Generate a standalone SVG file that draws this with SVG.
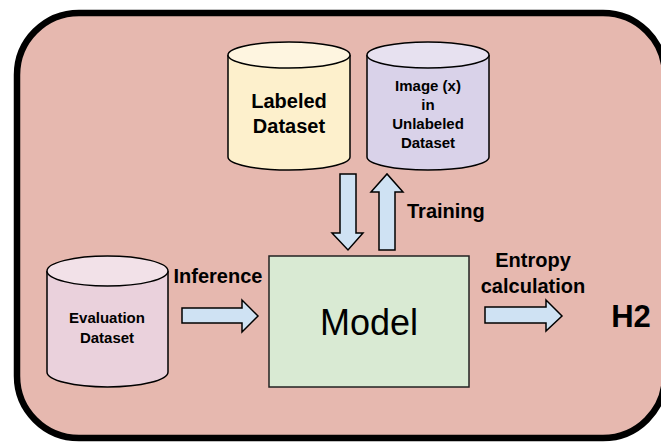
<svg xmlns="http://www.w3.org/2000/svg" width="661" height="444" viewBox="0 0 661 444">
<style>
.cyl{stroke:#000;stroke-width:1.5}
.arr{fill:#cfe2f3;stroke:#000;stroke-width:1.5;stroke-linejoin:miter}
text{font-family:"Liberation Sans",Arial,sans-serif;fill:#000}
.b{font-weight:bold}
</style>
<rect x="0" y="0" width="661" height="444" fill="#ffffff"/>
<rect id="frame" x="17" y="13" width="648" height="425" rx="62" ry="62" fill="#e6b8af" stroke="#000" stroke-width="6.5"/>
<g id="labeled">
<path class="cyl" d="M228,55 L228,157 A61,13 0 0 0 350,157 L350,55" fill="#fdf0cc"/>
<ellipse class="cyl" cx="289" cy="55" rx="61" ry="13" fill="#fef5e0"/>
<text class="b" x="289" y="108" font-size="20" text-anchor="middle">Labeled</text>
<text class="b" x="289" y="133" font-size="20" text-anchor="middle">Dataset</text>
</g>
<g id="unlabeled">
<path class="cyl" d="M367,55 L367,157 A61,13 0 0 0 489,157 L489,55" fill="#d9d2e9"/>
<ellipse class="cyl" cx="428" cy="55" rx="61" ry="13" fill="#e7e1f0"/>
<text class="b" x="428" y="91" font-size="15" text-anchor="middle">Image (x)</text>
<text class="b" x="428" y="110" font-size="15" text-anchor="middle">in</text>
<text class="b" x="428" y="129" font-size="15" text-anchor="middle">Unlabeled</text>
<text class="b" x="428" y="148" font-size="15" text-anchor="middle">Dataset</text>
</g>
<g id="evaluation">
<path class="cyl" d="M47,271 L47,372 A60.5,15 0 0 0 168,372 L168,271" fill="#ead1dc"/>
<ellipse class="cyl" cx="107.5" cy="271" rx="60.5" ry="15" fill="#f2e1e8"/>
<text class="b" x="107" y="323" font-size="15" text-anchor="middle">Evaluation</text>
<text class="b" x="107" y="343" font-size="15" text-anchor="middle">Dataset</text>
</g>
<g id="model">
<rect x="269" y="256" width="200" height="131" fill="#d9ead3" stroke="#222" stroke-width="1.5"/>
<text x="369" y="335" font-size="36" text-anchor="middle">Model</text>
</g>
<g id="h2">
<text class="b" x="631" y="327" font-size="31" text-anchor="middle">H2</text>
</g>
<g id="connectors">
<path class="arr" d="M340,174 L356,174 L356,233 L363,233 L348,250 L332,233 L340,233 Z"/>
<path class="arr" d="M379,250 L395,250 L395,192 L403,192 L387,174 L371,192 L379,192 Z"/>
<path class="arr" d="M182,308 L242,308 L242,300 L258,316 L242,332 L242,323 L182,323 Z"/>
<path class="arr" d="M485,307 L546,307 L546,300 L562,316 L546,331 L546,323 L485,323 Z"/>
<text class="b" x="407" y="218" font-size="20">Training</text>
<text class="b" x="218" y="283" font-size="20" text-anchor="middle">Inference</text>
<text class="b" x="533" y="267" font-size="20" text-anchor="middle">Entropy</text>
<text class="b" x="533" y="293" font-size="20" text-anchor="middle">calculation</text>
</g>
</svg>
